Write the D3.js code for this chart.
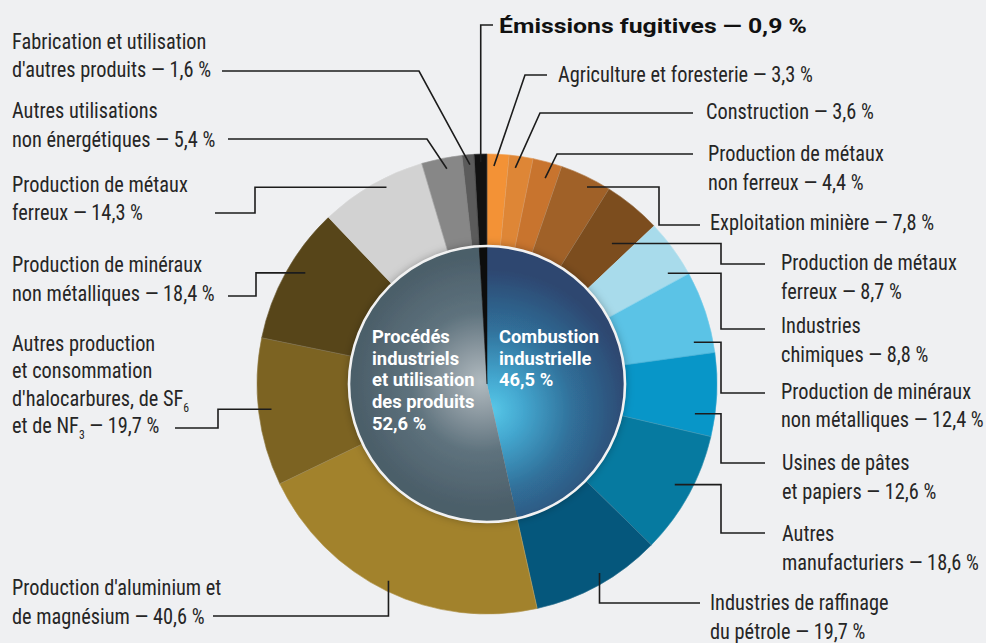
<!DOCTYPE html>
<html><head><meta charset="utf-8">
<script src="https://cdn.jsdelivr.net/npm/d3@7"></script>
<style>html,body{margin:0;padding:0;background:#eff0f2;} svg{display:block}</style>
</head><body><svg id="c" width="986" height="643"></svg>
<script>
// ---------- DATA ----------
const mainCategories = ["Combustion industrielle", "Procédés industriels et utilisation des produits", "Émissions fugitives"];
const mainValues = [46.5, 52.6, 0.9];
const combustionCategories = ["Agriculture et foresterie", "Construction", "Production de métaux non ferreux", "Exploitation minière", "Production de métaux ferreux", "Industries chimiques", "Production de minéraux non métalliques", "Usines de pâtes et papiers", "Autres manufacturiers", "Industries de raffinage du pétrole"];
const combustionValues = [3.3, 3.6, 4.4, 7.8, 8.7, 8.8, 12.4, 12.6, 18.6, 19.7];
const procedesCategories = ["Production d'aluminium et de magnésium", "Autres production et consommation d'halocarbures, de SF6 et de NF3", "Production de minéraux non métalliques", "Production de métaux ferreux", "Autres utilisations non énergétiques", "Fabrication et utilisation d'autres produits"];
const procedesValues = [40.6, 19.7, 18.4, 14.3, 5.4, 1.6];
const fugitiveCategories = ["Émissions fugitives"];
const fugitiveValues = [100];

// ---------- STYLE / LAYOUT ----------
const combustionColors = ["#f39236", "#de8636", "#c8742e", "#a06128", "#7c4d1e", "#a8dbeb", "#5bc3e6", "#0896c8", "#067aa0", "#05577c"];
const procedesColors = ["#a2822c", "#7c6322", "#574519", "#d2d2d2", "#878787", "#5b5b5b"];
const fugitiveColors = ["#111111"];

const combustionLabels = [
  {lines: ["Agriculture et foresterie — {v}"], x: 558, y: 81.5, frac: .33, r: 218, path: [["P", 525, 75], ["P", 547, 75]]},
  {lines: ["Construction — {v}"], x: 706, y: 119, frac: .32, r: 218, path: [["P", 540, 113], ["P", 693, 113]]},
  {lines: ["Production de métaux", "non ferreux — {v}"], x: 708, y: 161, frac: .57, r: 214, path: [["P", 557, 154], ["P", 693, 154]]},
  {lines: ["Exploitation minière — {v}"], x: 710, y: 230, frac: .61, r: 221, path: [["H", 659], ["P", 659, 225], ["P", 700, 225]]},
  {lines: ["Production de métaux", "ferreux — {v}"], x: 781, y: 270, frac: .66, r: 188, path: [["H", 721], ["P", 721, 264], ["P", 765, 264]]},
  {lines: ["Industries", "chimiques — {v}"], x: 781, y: 333, frac: .81, r: 212, path: [["H", 721], ["P", 721, 329], ["P", 765, 329]]},
  {lines: ["Production de minéraux", "non métalliques — {v}"], x: 781, y: 398.5, frac: .83, r: 211, path: [["H", 721], ["P", 721, 393], ["P", 765, 393]]},
  {lines: ["Usines de pâtes", "et papiers — {v}"], x: 782, y: 470, frac: .76, r: 210, path: [["H", 721], ["P", 721, 463], ["P", 765, 463]]},
  {lines: ["Autres", "manufacturiers — {v}"], x: 782, y: 541, frac: .48, r: 213, path: [["H", 721], ["P", 721, 533], ["P", 765, 533]]},
  {lines: ["Industries de raffinage", "du pétrole — {v}"], x: 710, y: 610, frac: .45, r: 220, path: [["V", 603], ["P", 700, 603]]}
];
const procedesLabels = [
  {lines: ["Production d'aluminium et", "de magnésium — {v}"], x: 12, y: 595, frac: .51, r: 220, path: [["V", 616], ["P", 213, 616]]},
  {lines: ["Autres production", "et consommation", "d'halocarbures, de SF_6", "et de NF_3 — {v}"], x: 12, y: 350.5, lh: 27.6, frac: .51, r: 217, path: [["H", 218], ["P", 218, 428], ["P", 175, 428]]},
  {lines: ["Production de minéraux", "non métalliques — {v}"], x: 12, y: 272, frac: .57, r: 213, path: [["H", 256], ["P", 256, 296], ["P", 228, 296]]},
  {lines: ["Production de métaux", "ferreux — {v}"], x: 12, y: 191.5, frac: .61, r: 221, path: [["H", 255], ["P", 255, 213], ["P", 215, 213]]},
  {lines: ["Autres utilisations", "non énergétiques — {v}"], x: 12, y: 118, frac: .58, r: 219, path: [["P", 427, 139], ["P", 228, 139]]},
  {lines: ["Fabrication et utilisation", "d'autres produits — {v}"], x: 12, y: 48.5, frac: .6, r: 220, path: [["P", 419, 71], ["P", 222, 71]]}
];
const fugitiveLabels = [
  {lines: ["Émissions fugitives — {v}"], x: 499, y: 33, frac: .5, r: 222, bold: true, path: [["V", 25], ["P", 493, 25]]}
];
const innerLabels = [
  {lines: ["Combustion", "industrielle", "{v}"], x: 499, y: 343},
  {lines: ["Procédés", "industriels", "et utilisation", "des produits", "{v}"], x: 372, y: 343},
  null
];

const W = 986, H = 643, cx = 487, cy = 384, R = 230, Rin = 138;
const fmt = v => d3.format(".1f")(v).replace(".", ",") + " %";
const LABEL_FONT = "'Roboto Condensed','Liberation Sans Narrow','Arial Narrow','Roboto',sans-serif";

const svg = d3.select("#c");
svg.append("rect").attr("width", W).attr("height", H).attr("fill", "#eff0f2");
const defs = svg.append("defs");

// gradients in the centred coordinate system of the chart group
const g1 = defs.append("radialGradient").attr("id", "gC").attr("gradientUnits", "userSpaceOnUse")
  .attr("cx", 4).attr("cy", 26).attr("r", 140);
[[0, "#58c8e8"], [0.22, "#44a8d0"], [0.58, "#30709a"], [1, "#2d4770"]].forEach(s => g1.append("stop").attr("offset", s[0]).attr("stop-color", s[1]));
const g2 = defs.append("radialGradient").attr("id", "gP").attr("gradientUnits", "userSpaceOnUse")
  .attr("cx", -6).attr("cy", -2).attr("r", 128);
[[0, "#b0babf"], [0.25, "#8c99a1"], [0.55, "#5e727d"], [1, "#4b5e69"]].forEach(s => g2.append("stop").attr("offset", s[0]).attr("stop-color", s[1]));
const sh = defs.append("filter").attr("id", "sh").attr("x", "-20%").attr("y", "-20%").attr("width", "140%").attr("height", "140%");
sh.append("feDropShadow").attr("dx", 0).attr("dy", 0).attr("stdDeviation", 5).attr("flood-color", "#000").attr("flood-opacity", 0.35);

const root = svg.append("g").attr("transform", `translate(${cx},${cy})`);

// inner pie
const mainPie = d3.pie().sort(null).value(d => d)(mainValues);
const subSets = [
  {cats: combustionCategories, vals: combustionValues, cols: combustionColors, labels: combustionLabels},
  {cats: procedesCategories, vals: procedesValues, cols: procedesColors, labels: procedesLabels},
  {cats: fugitiveCategories, vals: fugitiveValues, cols: fugitiveColors, labels: fugitiveLabels}
];
const outerArc = d3.arc().innerRadius(120).outerRadius(R);
const innerArc = d3.arc().innerRadius(0).outerRadius(Rin);

const subArcs = [];
mainPie.forEach((p, i) => {
  const s = subSets[i];
  const arcs = d3.pie().sort(null).value(d => d).startAngle(p.startAngle).endAngle(p.endAngle)(s.vals);
  arcs.forEach((a, j) => subArcs.push({a, color: s.cols[j], label: s.labels[j], value: (i === 2 ? mainValues[2] : s.vals[j])}));
});

root.append("g").selectAll("path").data(subArcs).join("path")
  .attr("d", d => outerArc(d.a)).attr("fill", d => d.color)
  .attr("stroke", d => d.color).attr("stroke-width", 0.6);
root.append("g").selectAll("path").data(subArcs).join("path")
  .attr("d", d => outerArc(d.a)).attr("fill", "none")
  .attr("stroke", "rgba(255,255,255,0.12)").attr("stroke-width", 0.8);

// inner disc
const innerG = root.append("g").attr("filter", "url(#sh)");
const innerFills = ["url(#gC)", "url(#gP)", "#111111"];
innerG.selectAll("path").data(mainPie).join("path")
  .attr("d", innerArc).attr("fill", (d, i) => innerFills[i])
  .attr("stroke", (d, i) => i === 2 ? "#111" : "none").attr("stroke-width", 0.5);
root.append("circle").attr("r", Rin).attr("fill", "none").attr("stroke", "#f2f2f2").attr("stroke-width", 2.6);

// leaders
function anchorPt(a, frac, r) {
  const ang = a.startAngle + frac * (a.endAngle - a.startAngle);
  return [cx + r * Math.sin(ang), cy - r * Math.cos(ang)];
}
const lineGen = d3.line();
const leaders = svg.append("g");
subArcs.forEach(d => {
  const L = d.label;
  const p0 = anchorPt(d.a, L.frac, L.r);
  const pts = [p0];
  let cur = p0;
  L.path.forEach(step => {
    let np;
    if (step[0] === "H") np = [step[1], cur[1]];
    else if (step[0] === "V") np = [cur[0], step[1]];
    else np = [step[1], step[2]];
    pts.push(np); cur = np;
  });
  leaders.append("path").attr("d", lineGen(pts)).attr("fill", "none")
    .attr("stroke", "#1c1c1c").attr("stroke-width", 1.6).attr("stroke-linejoin", "miter");
});

// measure condensed scale
const probe = svg.append("text").attr("font-family", LABEL_FONT).attr("font-size", 22.5).text("Agriculture et foresterie — 3,3 %");
const kx = 255 / probe.node().getComputedTextLength();
probe.remove();
const probeB = svg.append("text").attr("font-family", "Roboto,'Noto Sans',sans-serif").attr("font-weight", 700).attr("font-size", 21).text("Émissions fugitives — 0,9 %");
const kb = 308 / probeB.node().getComputedTextLength();
probeB.remove();

function writeLine(t, str) {
  const parts = str.split(/_(\d)/);
  parts.forEach((p, i) => {
    if (i % 2 === 1) {
      t.append("tspan").attr("font-size", 13).attr("dy", 6).text(p);
    } else if (p.length) {
      const ts = t.append("tspan").text(p);
      if (i > 0) ts.attr("dy", -6);
    }
  });
}

const labelsG = svg.append("g");
subArcs.forEach(d => {
  const L = d.label;
  const lh = L.lh || 28.7;
  L.lines.forEach((ln, k) => {
    const txt = ln.replace("{v}", fmt(d.value));
    const t = labelsG.append("text")
      .attr("transform", `translate(${L.x},${L.y + k * lh}) scale(${L.bold ? kb : kx},1)`)
      .attr("fill", L.bold ? "#111" : "#262626");
    if (L.bold) t.attr("font-family", "Roboto,'Noto Sans',sans-serif").attr("font-weight", 700).attr("font-size", 21);
    else t.attr("font-family", LABEL_FONT).attr("font-size", 22.5);
    writeLine(t, txt);
  });
});

// inner labels
const probeI = svg.append("text").attr("font-family", "Roboto,'Noto Sans',sans-serif").attr("font-weight", 700).attr("font-size", 17).text("Combustion");
const fsI = 17 * 100 / probeI.node().getComputedTextLength();
probeI.remove();
mainPie.forEach((p, i) => {
  const L = innerLabels[i];
  if (!L) return;
  L.lines.forEach((ln, k) => {
    svg.append("text").attr("x", L.x).attr("y", L.y + k * 21.7)
      .attr("font-family", "Roboto,'Noto Sans',sans-serif").attr("font-weight", 700)
      .attr("font-size", fsI).attr("fill", "#ffffff")
      .text(ln.replace("{v}", fmt(mainValues[i])));
  });
});
</script></body></html>
